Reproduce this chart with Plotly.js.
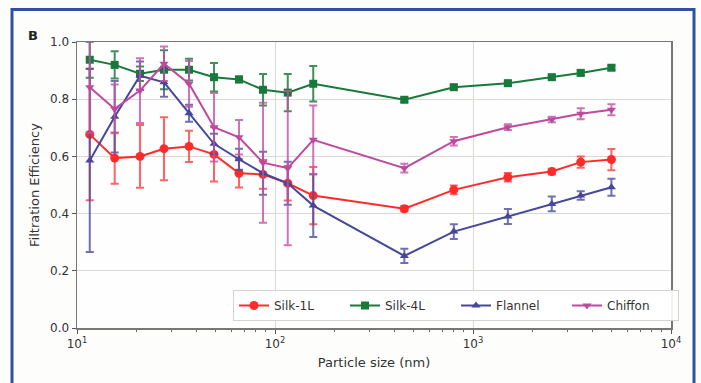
<!DOCTYPE html>
<html>
<head>
<meta charset="utf-8">
<script src="https://cdn.plot.ly/plotly-3.0.1.min.js"></script>
<style>
  html, body { margin: 0; padding: 0; background: #ffffff; }
  #chart { width: 701px; height: 383px; }
</style>
</head>
<body>
<div id="chart"></div>
<script>
// Particle size (nm)
const sizes = [11.6, 15.5, 20.8, 27.5, 36.8, 49.2, 65.8, 87, 116, 156, 450, 800, 1500, 2500, 3500, 5000];

const silk1L    = [0.677, 0.594, 0.600, 0.627, 0.635, 0.607, 0.541, 0.537, 0.506, 0.463, 0.417, 0.483, 0.527, 0.547, 0.580, 0.589];
const silk1LErr = [0.23, 0.09, 0.11, 0.11, 0.055, 0.095, 0.05, 0.05, 0.06, 0.10, 0.01, 0.015, 0.015, 0.01, 0.02, 0.037];

const silk4L    = [0.938, 0.920, 0.889, 0.903, 0.903, 0.877, 0.869, 0.833, 0.823, 0.854, 0.798, 0.842, 0.856, 0.877, 0.892, 0.910];
const silk4LErr = [0.063, 0.048, 0.025, 0.068, 0.038, 0.05, 0.01, 0.055, 0.065, 0.062, 0.008, 0.008, 0.008, 0.008, 0.008, 0.008];

const flannel    = [0.586, 0.739, 0.882, 0.859, 0.751, 0.644, 0.590, 0.541, 0.506, 0.428, 0.252, 0.337, 0.390, 0.434, 0.463, 0.492];
const flannelErr = [0.32, 0.125, 0.05, 0.05, 0.03, 0.035, 0.037, 0.075, 0.075, 0.11, 0.025, 0.026, 0.026, 0.026, 0.015, 0.03];

const chiffon    = [0.842, 0.766, 0.830, 0.924, 0.854, 0.702, 0.667, 0.578, 0.559, 0.658, 0.559, 0.653, 0.702, 0.729, 0.749, 0.763];
const chiffonErr = [0.16, 0.085, 0.113, 0.06, 0.08, 0.12, 0.06, 0.21, 0.27, 0.12, 0.015, 0.015, 0.01, 0.01, 0.019, 0.019];

const seriesNames = ['Silk-1L', 'Silk-4L', 'Flannel', 'Chiffon'];
const xTickVals = [10, 100, 1000, 10000];
const xTickText = ['10<sup>1</sup>', '10<sup>2</sup>', '10<sup>3</sup>', '10<sup>4</sup>'];
const xMinorVals = [20, 30, 40, 50, 60, 70, 80, 90, 200, 300, 400, 500, 600, 700, 800, 900, 2000, 3000, 4000, 5000, 6000, 7000, 8000, 9000];
const yTickVals = [0.0, 0.2, 0.4, 0.6, 0.8, 1.0];
const yTickText = ['0.0', '0.2', '0.4', '0.6', '0.8', '1.0'];

function mk(name, y, err, color, errColor, symbol, size) {
  return {
    type: 'scatter', mode: 'lines+markers', name: name,
    x: sizes, y: y,
    line: { color: color, width: 2 },
    marker: { color: color, symbol: symbol, size: size },
    error_y: { type: 'data', array: err, visible: true, color: errColor, thickness: 2, width: 4 }
  };
}

const traces = [
  mk(seriesNames[0], silk1L, silk1LErr, '#ff2a2a', 'rgba(255,60,60,0.8)', 'circle', 9),
  mk(seriesNames[1], silk4L, silk4LErr, '#17793a', 'rgba(30,125,60,0.85)', 'square', 8),
  mk(seriesNames[2], flannel, flannelErr, '#47479a', 'rgba(75,75,160,0.8)', 'triangle-up', 8),
  mk(seriesNames[3], chiffon, chiffonErr, '#be4aa0', 'rgba(195,80,165,0.8)', 'triangle-down', 8)
];

const font = 'DejaVu Sans, sans-serif';
const L = 77, R = 671, T = 42, B = 328;
const pw = R - L, ph = B - T;
const px = v => (v - L) / pw;
const py = v => (B - v) / ph;

const layout = {
  width: 701, height: 383,
  margin: { l: L, r: 701 - R, t: T, b: 383 - B, pad: 0 },
  paper_bgcolor: '#fdfdfc',
  plot_bgcolor: '#fefefe',
  showlegend: true,
  font: { family: font, color: '#333333', size: 12 },
  xaxis: {
    type: 'log', range: [1, 4],
    tickvals: xTickVals, ticktext: xTickText,
    ticks: 'outside', ticklen: 4, tickwidth: 1, tickcolor: '#555',
    showgrid: true, gridcolor: '#dcd8d4', gridwidth: 1,
    showline: true, linecolor: '#777', linewidth: 1.5, mirror: true,
    zeroline: false,
    tickfont: { family: font, size: 12, color: '#333' },
    minor: { tickmode: 'array', tickvals: xMinorVals, ticks: 'outside', ticklen: 2, tickwidth: 1, tickcolor: '#666', showgrid: false },
    title: { text: 'Particle size (nm)', font: { family: font, size: 13, color: '#333' }, standoff: 8 }
  },
  yaxis: {
    range: [0, 1],
    tickvals: yTickVals, ticktext: yTickText,
    ticks: 'outside', ticklen: 4, tickwidth: 1, tickcolor: '#555',
    showgrid: true, gridcolor: '#dcd8d4', gridwidth: 1,
    showline: true, linecolor: '#777', linewidth: 1.5, mirror: true,
    zeroline: false,
    tickfont: { family: font, size: 12, color: '#333' },
    title: { text: 'Filtration Efficiency', font: { family: font, size: 13, color: '#333' }, standoff: 7 }
  },
  legend: {
    orientation: 'h',
    x: px(233), xanchor: 'left',
    y: py(321), yanchor: 'bottom',
    bgcolor: 'rgba(255,255,255,0.9)',
    bordercolor: '#d6d2ce', borderwidth: 1,
    font: { family: font, size: 12, color: '#333' },
    itemwidth: 30,
    entrywidth: 66
  },
  annotations: [{
    text: '<b>B</b>', xref: 'paper', yref: 'paper',
    x: px(33), y: py(35), xanchor: 'center', yanchor: 'middle',
    showarrow: false, font: { family: font, size: 13, color: '#222' }
  }],
  shapes: [{
    type: 'rect', xref: 'paper', yref: 'paper',
    x0: px(12), x1: px(694), y0: py(420), y1: py(9.5),
    line: { color: '#2f52a0', width: 3 }, fillcolor: 'rgba(0,0,0,0)', layer: 'below'
  }]
};

Plotly.newPlot('chart', traces, layout, { displayModeBar: false, staticPlot: true });
</script>
</body>
</html>
